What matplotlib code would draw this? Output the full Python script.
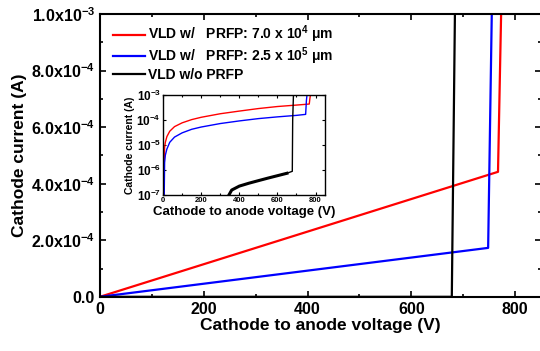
import numpy as np
import matplotlib
matplotlib.use('Agg')
import matplotlib.pyplot as plt
from matplotlib.ticker import MultipleLocator, FixedLocator

plt.rcParams['font.family'] = ['Liberation Sans', 'DejaVu Sans']
plt.rcParams['font.weight'] = 'bold'
plt.rcParams['mathtext.fontset'] = 'custom'
plt.rcParams['mathtext.rm'] = 'Liberation Sans:bold'
plt.rcParams['mathtext.it'] = 'Liberation Sans:bold'
plt.rcParams['mathtext.bf'] = 'Liberation Sans:bold'

# data
# linear view
v_red = [0, 767, 773]
i_red = [0, 4.42e-4, 1.0e-3]
v_blue = [0, 748, 755]
i_blue = [0, 1.73e-4, 1.0e-3]
v_black = [0, 678, 684]
i_black = [0, 0, 1.0e-3]

# log view (inset)
vl_red = [4, 5, 8, 12, 20, 35, 60, 100, 150, 200, 300, 400, 500, 600, 700, 767, 770, 773]
il_red = [1e-7, 1e-6, 8e-6, 1.3e-5, 2.2e-5, 3.6e-5, 5.5e-5, 7.8e-5, 1.05e-4, 1.3e-4,
          1.8e-4, 2.3e-4, 2.9e-4, 3.5e-4, 4.0e-4, 4.4e-4, 7e-4, 1e-3]
vl_blue = [6, 8, 12, 20, 35, 60, 100, 150, 200, 300, 400, 500, 600, 700, 748, 752, 755]
il_blue = [1e-7, 2e-6, 4e-6, 7e-6, 1.3e-5, 2.1e-5, 3.1e-5, 4.3e-5, 5.3e-5,
           7.3e-5, 9.3e-5, 1.15e-4, 1.35e-4, 1.55e-4, 1.7e-4, 6e-4, 1e-3]
vl_black = [345, 360, 400, 450, 500, 550, 600, 650, 678, 680, 684]
il_black = [1e-7, 1.6e-7, 2.3e-7, 3.0e-7, 3.8e-7, 4.8e-7, 6.0e-7, 7.5e-7, 9e-7, 1e-4, 1e-3]

labels = [r'VLD w/   PRFP: 7.0 x 10$^{4}$ $\mu$m',
          r'VLD w/   PRFP: 2.5 x 10$^{5}$ $\mu$m',
          'VLD w/o PRFP']

y_ticks = [0, 2e-4, 4e-4, 6e-4, 8e-4, 1e-3]
y_ticklabels = ['0.0', r'2.0x10$^{-4}$', r'4.0x10$^{-4}$', r'6.0x10$^{-4}$',
                r'8.0x10$^{-4}$', r'1.0x10$^{-3}$']
ins_yticks = [1e-7, 1e-6, 1e-5, 1e-4, 1e-3]
ins_yticklabels = [r'10$^{-7}$', r'10$^{-6}$', r'10$^{-5}$', r'10$^{-4}$', r'10$^{-3}$']

fig = plt.figure(figsize=(5.4, 3.51), dpi=100)
ax = fig.add_axes([0.185, 0.154, 0.817, 0.806])

ax.plot(v_red, i_red, color='#ff0000', lw=1.6, label=labels[0])
ax.plot(v_blue, i_blue, color='#0000ff', lw=1.6, label=labels[1])
ax.plot(v_black, i_black, color='black', lw=1.6, label=labels[2])

ax.set_xlim(0, 850)
ax.set_ylim(-0.05e-5, 1.0e-3)
ax.xaxis.set_major_locator(MultipleLocator(200))
ax.xaxis.set_minor_locator(MultipleLocator(100))
ax.yaxis.set_major_locator(FixedLocator(y_ticks))
ax.yaxis.set_minor_locator(MultipleLocator(1e-4))
ax.set_yticklabels(y_ticklabels)
ax.tick_params(which='both', direction='in', top=True, right=True, labelsize=11.5, width=1.2)
ax.tick_params(which='major', length=4)
ax.tick_params(which='minor', length=2.5)
for s in ax.spines.values():
    s.set_linewidth(1.5)
ax.set_xlabel('Cathode to anode voltage (V)', fontsize=12.5, fontweight='bold', labelpad=1)
ax.set_ylabel('Cathode current (A)', fontsize=12.5, fontweight='bold', labelpad=3)

ax.legend(loc='upper left', frameon=False, fontsize=10, handlelength=2.3,
          handletextpad=0.2, labelspacing=0.02, borderaxespad=0.0,
          bbox_to_anchor=(0.017, 0.985))

# inset
ins = fig.add_axes([0.302, 0.444, 0.300, 0.285])
ins.semilogy(vl_red, il_red, color='#ff0000', lw=1.0)
ins.semilogy(vl_blue, il_blue, color='#0000ff', lw=1.0)
ins.semilogy(vl_black, il_black, color='black', lw=1.0)
ins.semilogy(vl_black[:-3], il_black[:-3], color='black', lw=2.2)
ins.set_xlim(0, 850)
ins.set_ylim(1e-7, 1e-3)
ins.xaxis.set_major_locator(MultipleLocator(200))
ins.xaxis.set_minor_locator(MultipleLocator(100))
ins.yaxis.set_major_locator(FixedLocator(ins_yticks))
ins.yaxis.set_minor_locator(FixedLocator([]))
ins.set_yticklabels(ins_yticklabels)
ins.tick_params(which='both', direction='in', top=True, right=True, width=0.8)
ins.tick_params(axis='x', labelsize=5.5, pad=1.5)
ins.tick_params(axis='y', labelsize=8.5, pad=1.5)
ins.tick_params(which='major', length=2.5)
ins.tick_params(which='minor', length=1.5)
for s in ins.spines.values():
    s.set_linewidth(1.0)
ins.set_xlabel('Cathode to anode voltage (V)', fontsize=9.5, fontweight='bold', labelpad=1)
ins.set_ylabel('Cathode current (A)', fontsize=7.5, fontweight='bold', labelpad=1)

fig.savefig('out.png', dpi=100)
